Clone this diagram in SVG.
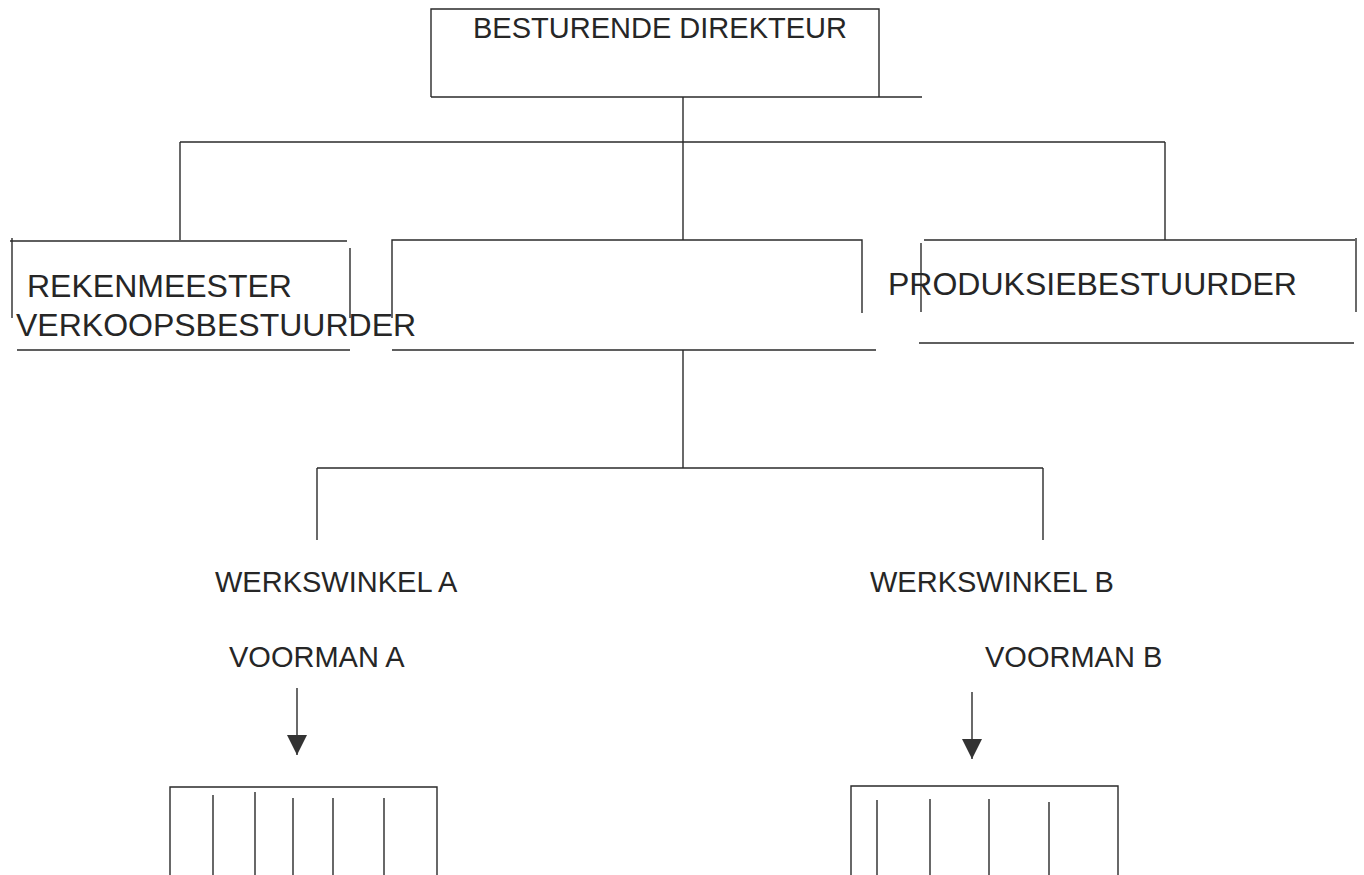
<svg xmlns="http://www.w3.org/2000/svg" width="1364" height="875" viewBox="0 0 1364 875">
<style>
.ln{stroke:#2a2a2a;stroke-width:1.4;fill:none}
.tx{font-family:"Liberation Sans",Arial,sans-serif;font-size:29px;fill:#262626}
.tm{font-size:32px}
</style>
<defs>
<marker id="ah" markerWidth="20" markerHeight="20" refX="20" refY="10" orient="auto" markerUnits="userSpaceOnUse" viewBox="0 0 20 20">
<path d="M0,0 L20,10 L0,20 Z" fill="#333"/>
</marker>
</defs>
<rect width="1364" height="875" fill="#fff"/>
<g id="connectors">
<path class="ln" d="M683,97 V240"/>
<path class="ln" d="M180,142 H1165"/>
<path class="ln" d="M180,142 V240"/>
<path class="ln" d="M1165,142 V240"/>
<path class="ln" d="M683,350 V468"/>
<path class="ln" d="M317,468 H1043"/>
<path class="ln" d="M317,468 V540"/>
<path class="ln" d="M1043,468 V540"/>
<path class="ln" d="M297,688 V755" marker-end="url(#ah)"/>
<path class="ln" d="M972,692 V759" marker-end="url(#ah)"/>
</g>
<g id="besturende-direkteur">
<path class="ln" d="M431,97 V9 H879 V97"/>
<path class="ln" d="M431,97 H922"/>
<text class="tx" x="473" y="38" textLength="374" lengthAdjust="spacingAndGlyphs">BESTURENDE DIREKTEUR</text>
</g>
<g id="rekenmeester">
<path class="ln" d="M10,241 H347"/>
<path class="ln" d="M12,238 V318"/>
<path class="ln" d="M350,248 V318"/>
<path class="ln" d="M17,350 H350"/>
<text class="tx tm" x="27" y="297">REKENMEESTER</text>
<text class="tx tm" x="16" y="336">VERKOOPSBESTUURDER</text>
</g>
<g id="middel">
<path class="ln" d="M392,318 V240 H862 V313"/>
<path class="ln" d="M392,350 H876"/>
</g>
<g id="produksiebestuurder">
<path class="ln" d="M924,240 H1355"/>
<path class="ln" d="M921,243 V312"/>
<path class="ln" d="M1356,238 V312"/>
<path class="ln" d="M919,343 H1354"/>
<text class="tx tm" x="888" y="295">PRODUKSIEBESTUURDER</text>
</g>
<g id="werkswinkel-a">
<text class="tx" x="215" y="592">WERKSWINKEL A</text>
<text class="tx" x="229" y="667">VOORMAN A</text>
</g>
<g id="werkswinkel-b">
<text class="tx" x="870" y="592">WERKSWINKEL B</text>
<text class="tx" x="985" y="667">VOORMAN B</text>
</g>
<g id="span-a">
<path class="ln" d="M170,875 V787 H437 V875"/>
<path class="ln" d="M213,795 V875 M255,792 V875 M293,798 V875 M333,798 V875 M384,798 V875"/>
</g>
<g id="span-b">
<path class="ln" d="M851,875 V786 H1118 V875"/>
<path class="ln" d="M877,800 V875 M930,799 V875 M989,799 V875 M1049,802 V875"/>
</g>
</svg>
